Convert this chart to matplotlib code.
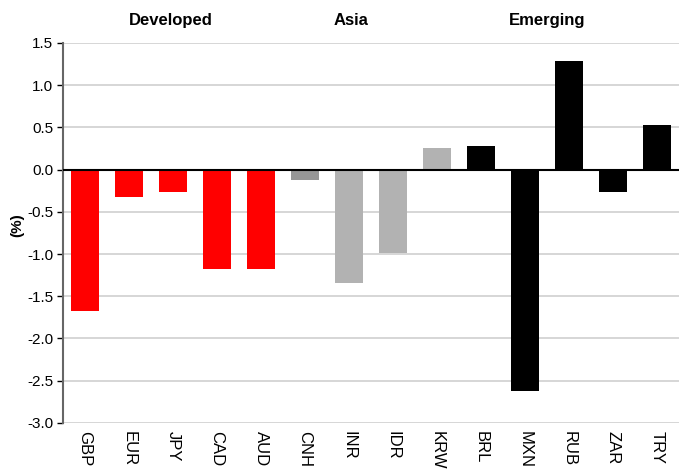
import matplotlib.pyplot as plt
import matplotlib.font_manager as fm

# currency moves, grouped by region
currencies = ['GBP', 'EUR', 'JPY', 'CAD', 'AUD', 'CNH', 'INR', 'IDR', 'KRW',
              'BRL', 'MXN', 'RUB', 'ZAR', 'TRY']
changes = [-1.67, -0.33, -0.27, -1.18, -1.18, -0.12, -1.34, -0.99, 0.25,
           0.28, -2.62, 1.29, -0.27, 0.53]
bar_colors = ['#ff0000'] * 5 + ['#969696'] + ['#b2b2b2'] * 3 + ['#000000'] * 5
groups = ['Developed', 'Asia', 'Emerging']
group_centers = [1.95, 6.05, 10.5]

names = {f.name for f in fm.fontManager.ttflist}
font = 'Liberation Sans Narrow' if 'Liberation Sans Narrow' in names else 'Liberation Sans'
plt.rcParams['font.family'] = [font, 'DejaVu Sans']

fig = plt.figure(figsize=(6.84, 4.72), dpi=100)
ax = fig.add_axes([0.092, 0.104, 0.901, 0.805])

x = list(range(len(currencies)))
ax.bar(x, changes, width=0.63, color=bar_colors, zorder=3)

ax.set_xlim(-0.5, len(currencies) - 0.5)
ax.set_ylim(-3.0, 1.5)
ax.set_yticks([1.5, 1.0, 0.5, 0.0, -0.5, -1.0, -1.5, -2.0, -2.5, -3.0])
ax.set_yticklabels([f'{v:.1f}' for v in ax.get_yticks()], fontsize=11)
ax.yaxis.grid(True, color='#d0d0d0', linewidth=1.2, zorder=0)
ax.axhline(0, color='black', linewidth=1.5, zorder=4)

ax.set_xticks(x)
ax.set_xticklabels(currencies, rotation=270, fontsize=12, va='top', ha='center')
ax.tick_params(axis='x', length=0, pad=6)
ax.tick_params(axis='y', length=4, width=1, color='black', pad=3)

for side in ['top', 'right', 'bottom']:
    ax.spines[side].set_visible(False)
ax.spines['left'].set_color('#666666')
ax.spines['left'].set_linewidth(1.5)

ax.set_ylabel('(%)', fontsize=11, fontweight='bold')
ax.yaxis.set_label_coords(-0.062, 0.52)

for name, c in zip(groups, group_centers):
    ax.text(c, 1.77, name, ha='center', va='center', fontsize=12,
            fontweight='bold', clip_on=False)

fig.savefig('out.png', dpi=100)
